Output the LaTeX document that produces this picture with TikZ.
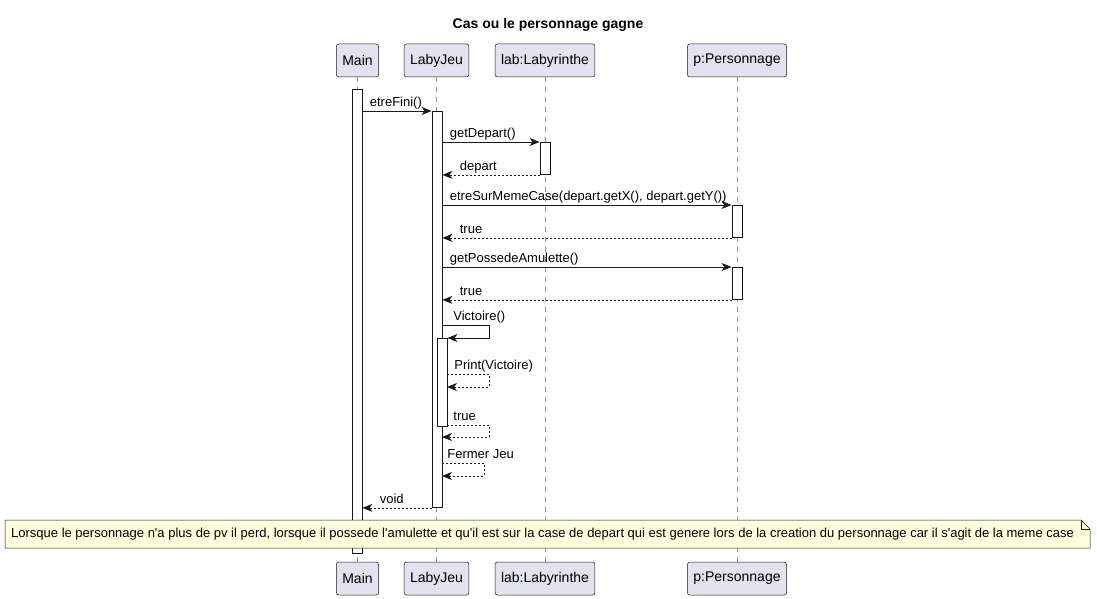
\documentclass[tikz,border=0pt]{standalone}
\usepackage{fontspec}
\setmainfont{Liberation Sans}
\usetikzlibrary{arrows.meta,positioning}
\definecolor{partfill}{HTML}{E2E2F0}
\definecolor{partline}{HTML}{181818}
\definecolor{notefill}{HTML}{FEFFDD}
\begin{document}
\begin{tikzpicture}[x=1pt,y=-1pt]

\tikzset{participant/.style={draw=partline, fill=partfill, line width=0.5pt, rounded corners=2.5pt, minimum height=33pt, inner xsep=6pt, font=\fontsize{14}{16}\selectfont}}
\tikzset{lifeline/.style={draw=gray!85, line width=0.6pt, dash pattern=on 5pt off 5pt}}
\tikzset{activ/.style={draw=partline, fill=white, line width=0.9pt, minimum width=10pt, inner sep=0pt}}
\tikzset{msg/.style={draw=partline, line width=0.8pt, -{Stealth[length=10pt,width=8pt,inset=3pt]}}}
\tikzset{ret/.style={msg, dash pattern=on 2pt off 2pt}}
\tikzset{lbl/.style={font=\fontsize{13}{15}\selectfont, inner sep=0pt, anchor=base west, yshift=4.5pt}}

\useasboundingbox (0,0) rectangle (1097,599);

\node[font=\bfseries\fontsize{14}{16}\selectfont] (title) at (548,25) {Cas ou le personnage gagne};

% participants
\node[participant] (mainT) at (357.5,60.5) {Main};
\node[participant] (jeuT) at (436.5,60.5) {LabyJeu};
\node[participant] (labT) at (545,60.5) {lab:Labyrinthe};
\node[participant] (persT) at (737,60.5) {p:Personnage};
\node[participant] (mainB) at (357.5,578.5) {Main};
\node[participant] (jeuB) at (436.5,578.5) {LabyJeu};
\node[participant] (labB) at (545,578.5) {lab:Labyrinthe};
\node[participant] (persB) at (737,578.5) {p:Personnage};

\draw[lifeline] (mainT) -- (mainB);
\draw[lifeline] (jeuT) -- (jeuB);
\draw[lifeline] (labT) -- (labB);
\draw[lifeline] (persT) -- (persB);

% activations
\node[activ, minimum height=464pt, anchor=north] (actMain) at (357,89) {};
\node[activ, minimum height=396pt, anchor=north] (actJeu) at (437,111) {};
\node[activ, minimum height=32pt, anchor=north] (actLab) at (545,142) {};
\node[activ, minimum height=32pt, anchor=north] (actPers1) at (737,205) {};
\node[activ, minimum height=32pt, anchor=north] (actPers2) at (737,267) {};
\node[activ, minimum height=88pt, anchor=north] (actVic) at (442,338) {};

% messages
\draw[msg] (actMain.east |- actJeu.north west) -- (actJeu.north west)
  node[lbl, pos=0, xshift=7pt] {etreFini()};
\draw[msg] (actJeu.east |- actLab.north west) -- (actLab.north west)
  node[lbl, pos=0, xshift=7pt] {getDepart()};
\draw[ret] (actLab.south west) -- (actJeu.east |- actLab.south west)
  node[lbl, pos=1, xshift=17pt] {depart};
\draw[msg] (actJeu.east |- actPers1.north west) -- (actPers1.north west)
  node[lbl, pos=0, xshift=7pt] {etreSurMemeCase(depart.getX(), depart.getY())};
\draw[ret] (actPers1.south west) -- (actJeu.east |- actPers1.south west)
  node[lbl, pos=1, xshift=17pt] {true};
\draw[msg] (actJeu.east |- actPers2.north west) -- (actPers2.north west)
  node[lbl, pos=0, xshift=7pt] {getPossedeAmulette()};
\draw[ret] (actPers2.south west) -- (actJeu.east |- actPers2.south west)
  node[lbl, pos=1, xshift=17pt] {true};

% self calls
\coordinate (vicOut) at (442,325);
\coordinate (printOut) at (447,374);
\coordinate (trueOut) at (447,425);
\coordinate (trueIn) at (442,437);
\coordinate (fermOut) at (442,463);
\coordinate (fermIn) at (442,476);
\draw[msg] (vicOut) node[lbl, xshift=11pt] {Victoire()} -- ++(47,0) |- (actVic.north east);
\draw[ret] (printOut) node[lbl, xshift=7pt] {Print(Victoire)} -- ++(42,0) |- ([yshift=-13pt]printOut);
\draw[ret] (trueOut) node[lbl, xshift=6pt] {true} -- ++(42,0) |- (trueIn);
\draw[ret] (fermOut) node[lbl, xshift=5pt] {Fermer Jeu} -- ++(42,0) |- (fermIn);

\draw[ret] (actJeu.south west) -- (actMain.east |- actJeu.south west)
  node[lbl, pos=1, xshift=17pt] {void};

% note
\filldraw[fill=notefill, draw=partline, line width=0.5pt] (5,520) -- (1081,520) -- (1090,529) -- (1090,548) -- (5,548) -- cycle;
\draw[draw=partline, line width=0.5pt] (1081,520) |- (1090,529);
\node[anchor=west, inner sep=0pt, font=\fontsize{13}{15}\selectfont] (note) at (11,534) {Lorsque le personnage n\textquotesingle a plus de pv il perd, lorsque il possede l\textquotesingle amulette et qu\textquotesingle il est sur la case de depart qui est genere lors de la creation du personnage car il s\textquotesingle agit de la meme case};

\end{tikzpicture}
\end{document}
